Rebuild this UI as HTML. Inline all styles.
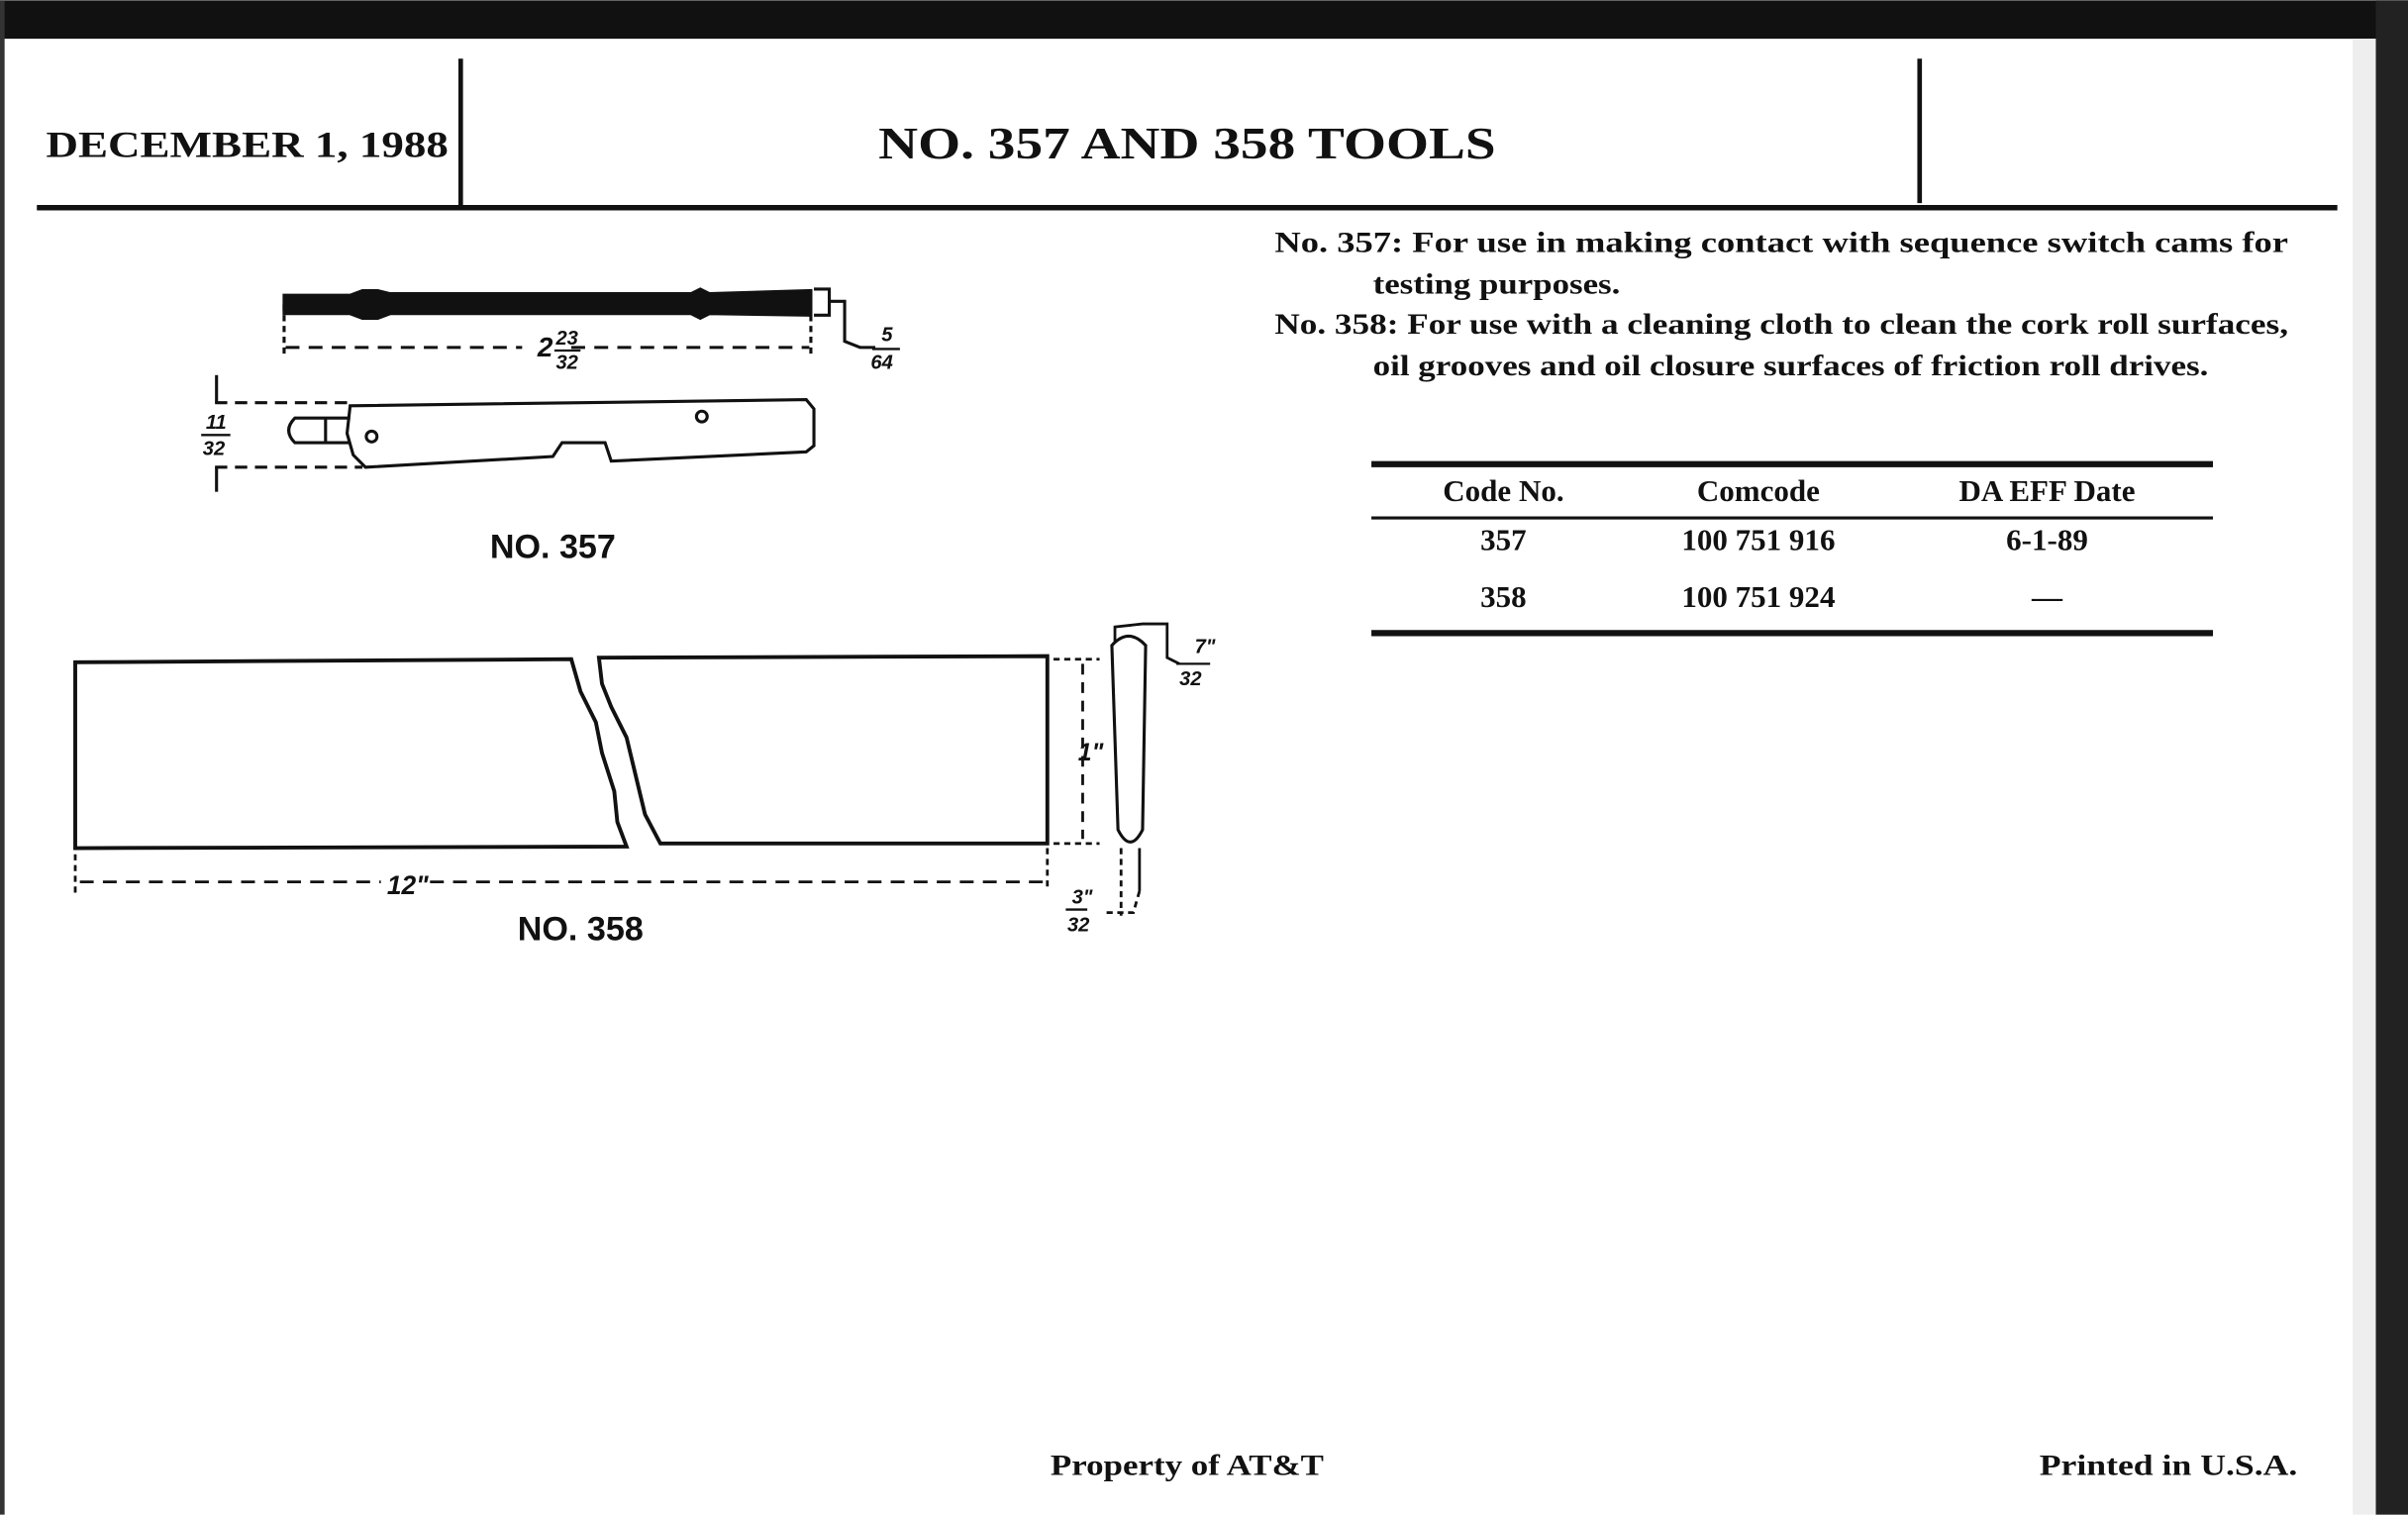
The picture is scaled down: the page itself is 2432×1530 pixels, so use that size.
<!DOCTYPE html>
<html><head><meta charset="utf-8"><style>
html,body{margin:0;padding:0;background:#fff}
svg{display:block}
.s{font-family:"Liberation Serif",serif;font-weight:bold;fill:#111}
.d{font-family:"Liberation Sans",sans-serif;font-weight:bold;fill:#111}
</style></head><body>
<svg width="2432" height="1530" viewBox="0 0 1568 986" xmlns="http://www.w3.org/2000/svg">
<rect x="0" y="0" width="1568" height="986" fill="#fff"/>
<rect x="0" y="0" width="1568" height="25" fill="#111"/>
<rect x="1547" y="0" width="21" height="986" fill="#222"/>
<rect x="0" y="0" width="3" height="986" fill="#333"/>
<rect x="1532" y="25" width="15" height="961" fill="#eee"/>
<!-- header -->
<line x1="300" y1="38" x2="300" y2="134" stroke="#111" stroke-width="3"/>
<line x1="1250" y1="38" x2="1250" y2="132" stroke="#111" stroke-width="3"/>
<line x1="24" y1="135" x2="1522" y2="135" stroke="#111" stroke-width="3.5"/>
<text x="30" y="102" class="s" font-size="24" textLength="262" lengthAdjust="spacingAndGlyphs">DECEMBER 1, 1988</text>
<text x="572" y="103" class="s" font-size="29" textLength="402" lengthAdjust="spacingAndGlyphs">NO. 357 AND 358 TOOLS</text>
<!-- description -->
<g class="s" font-size="19">
<text x="830" y="164" textLength="660" lengthAdjust="spacingAndGlyphs">No. 357: For use in making contact with sequence switch cams for</text>
<text x="894" y="191" textLength="161" lengthAdjust="spacingAndGlyphs">testing purposes.</text>
<text x="830" y="217" textLength="660" lengthAdjust="spacingAndGlyphs">No. 358: For use with a cleaning cloth to clean the cork roll surfaces,</text>
<text x="894" y="244" textLength="544" lengthAdjust="spacingAndGlyphs">oil grooves and oil closure surfaces of friction roll drives.</text>
</g>
<!-- table -->
<line x1="893" y1="302" x2="1441" y2="302" stroke="#111" stroke-width="4"/>
<line x1="893" y1="337" x2="1441" y2="337" stroke="#111" stroke-width="2"/>
<line x1="893" y1="412" x2="1441" y2="412" stroke="#111" stroke-width="4"/>
<g class="s" font-size="20" text-anchor="middle">
<text x="979" y="326">Code No.</text><text x="1145" y="326">Comcode</text><text x="1333" y="326">DA EFF Date</text>
<text x="979" y="358">357</text><text x="1145" y="358">100 751 916</text><text x="1333" y="358">6-1-89</text>
<text x="979" y="395">358</text><text x="1145" y="395">100 751 924</text><text x="1333" y="395">—</text>
</g>
<!-- footer -->
<text x="684" y="960" class="s" font-size="19" textLength="178" lengthAdjust="spacingAndGlyphs">Property of AT&amp;T</text>
<text x="1328" y="960" class="s" font-size="19" textLength="168" lengthAdjust="spacingAndGlyphs">Printed in U.S.A.</text>
<!-- NO. 357 drawing -->
<g stroke="#111" fill="none" stroke-width="2">
<path d="M185 192 L228 192 L236 189 L246 189 L254 191 L450 191 L456 188 L462 191 L528 189 L528 205 L462 204 L456 207 L450 204 L254 204 L246 207 L236 207 L228 204 L185 204 Z" fill="#111"/>
<path d="M530 188 L540 188 L540 205 L530 205"/>
<path d="M540 196 L550 196 L550 222 L560 226 L570 226"/>
<line x1="185" y1="198" x2="185" y2="230" stroke-dasharray="4 3"/>
<line x1="528" y1="205" x2="528" y2="230" stroke-dasharray="4 3"/>
<line x1="186" y1="226" x2="340" y2="226" stroke-dasharray="9 6"/>
<line x1="372" y1="226" x2="527" y2="226" stroke-dasharray="9 6"/>
<path d="M228 264 L525 260 L530 266 L530 290 L525 294 L398 300 L394 288 L366 288 L360 297 L238 304 L230 296 L226 282 Z"/>
<path d="M228 272 L192 272 Q184 280 192 288 L228 288"/>
<line x1="212" y1="272" x2="212" y2="288"/>
<circle cx="242" cy="284" r="3.5"/>
<circle cx="457" cy="271" r="3.5"/>
<line x1="140" y1="262" x2="228" y2="262" stroke-dasharray="8 5"/>
<line x1="140" y1="304" x2="236" y2="304" stroke-dasharray="8 5"/>
<line x1="141" y1="244" x2="141" y2="262"/>
<line x1="141" y1="304" x2="141" y2="320"/>
</g>
<g class="d" font-size="13" font-style="italic">
<text x="350" y="232" font-size="18">2</text>
<text x="362" y="224">23</text><line x1="361" y1="228" x2="378" y2="228" stroke="#111" stroke-width="1.5"/><text x="362" y="240">32</text>
<text x="574" y="222">5</text><line x1="568" y1="227" x2="586" y2="227" stroke="#111" stroke-width="1.5"/><text x="567" y="240">64</text>
<text x="134" y="279">11</text><line x1="131" y1="283" x2="150" y2="283" stroke="#111" stroke-width="1.5"/><text x="132" y="296">32</text>
</g>
<text x="360" y="363" class="d" font-size="22" text-anchor="middle">NO. 357</text>
<!-- NO. 358 drawing -->
<g stroke="#111" fill="none" stroke-width="2.5">
<path d="M49 431 L372 429 L378 450 L388 470 L392 490 L400 515 L402 535 L408 551 L49 552 Z"/>
<path d="M390 428 L682 427 L682 549 L430 549 L420 530 L414 505 L408 480 L398 460 L392 445 Z"/>
<path d="M724 420 Q735 408 746 420 L744 540 Q736 556 728 540 Z" stroke-width="2"/>
</g>
<g stroke="#111" fill="none" stroke-width="1.8">
<line x1="686" y1="429" x2="716" y2="429" stroke-dasharray="4 3"/>
<line x1="686" y1="549" x2="716" y2="549" stroke-dasharray="4 3"/>
<line x1="705" y1="432" x2="705" y2="546" stroke-dasharray="7 5"/>
<line x1="49" y1="556" x2="49" y2="582" stroke-dasharray="4 3"/>
<line x1="682" y1="552" x2="682" y2="580" stroke-dasharray="4 3"/>
<line x1="52" y1="574" x2="248" y2="574" stroke-dasharray="9 6"/>
<line x1="280" y1="574" x2="680" y2="574" stroke-dasharray="9 6"/>
<line x1="730" y1="552" x2="730" y2="596" stroke-dasharray="4 3"/>
<line x1="742" y1="552" x2="742" y2="580"/>
<path d="M742 580 L738 594 L720 594" stroke-dasharray="4 3"/>
<path d="M726 418 L726 408 L744 406 L760 406 L760 428 L768 432"/>
</g>
<g class="d" font-size="13" font-style="italic">
<text x="252" y="582" font-size="17">12"</text>
<text x="702" y="495" font-size="16">1"</text>
<text x="698" y="588">3"</text><line x1="694" y1="592" x2="708" y2="592" stroke="#111" stroke-width="1.5"/><text x="695" y="606">32</text>
<text x="778" y="425">7"</text><line x1="766" y1="432" x2="788" y2="432" stroke="#111" stroke-width="1.5"/><text x="768" y="446">32</text>
</g>
<text x="378" y="612" class="d" font-size="22" text-anchor="middle">NO. 358</text>
</svg>
</body></html>
